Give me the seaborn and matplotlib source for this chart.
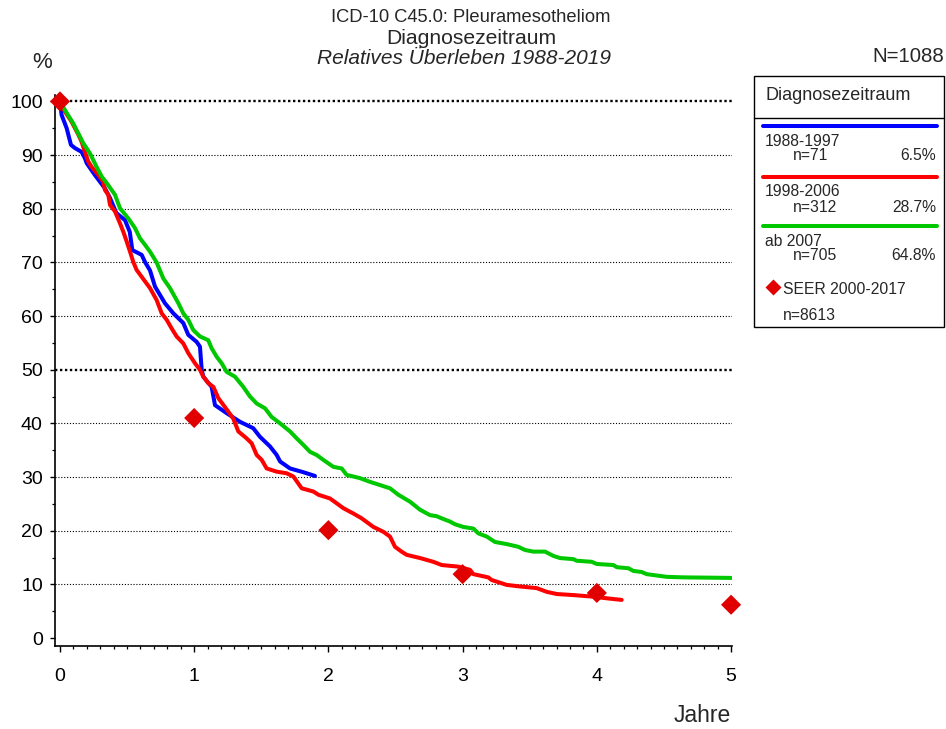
import numpy as np
import pandas as pd
import matplotlib
matplotlib.use('Agg')
import matplotlib.pyplot as plt
import seaborn as sns
from matplotlib.lines import Line2D
from matplotlib.patches import Rectangle
from matplotlib.ticker import MultipleLocator

sns.set_theme(style='ticks')
plt.rcParams['font.family'] = ['Liberation Sans', 'DejaVu Sans']

# ---------------- data ----------------
groups = ['1988-1997', '1998-2006', 'ab 2007']
group_n = ['n=71', 'n=312', 'n=705']
group_pct = ['6.5%', '28.7%', '64.8%']
colors = ['#0000ff', '#ff0000', '#00c800']

t_1988 = [0, 0.012, 0.05, 0.082, 0.112, 0.161, 0.186, 0.199, 0.26, 0.335,
          0.373, 0.42, 0.484, 0.52, 0.539, 0.609, 0.633, 0.671, 0.708, 0.782,
          0.845, 0.919, 0.956, 1.018, 1.043, 1.056, 1.068, 1.13, 1.155, 1.242,
          1.341, 1.44, 1.49, 1.565, 1.615, 1.64, 1.714, 1.813, 1.9]
s_1988 = [100, 97.5, 95.0, 91.9, 91.3, 90.6, 89.4, 88.5, 86.3, 83.8,
          82.0, 79.2, 77.9, 75.7, 72.3, 71.4, 70.1, 68.5, 65.5, 62.4,
          60.5, 58.7, 56.5, 55.2, 54.3, 50.0, 48.7, 46.8, 43.4, 41.9,
          40.3, 39.1, 37.5, 35.7, 34.1, 32.9, 31.6, 30.9, 30.2]

t_1998 = [0, 0.037, 0.087, 0.137, 0.161, 0.186, 0.211, 0.236, 0.286, 0.323,
          0.335, 0.36, 0.373, 0.41, 0.447, 0.472, 0.497, 0.522, 0.546, 0.571,
          0.671, 0.72, 0.758, 0.795, 0.832, 0.869, 0.919, 0.956, 1.006, 1.043,
          1.068, 1.105, 1.143, 1.18, 1.254, 1.291, 1.329, 1.391, 1.428, 1.466,
          1.503, 1.54, 1.615, 1.689, 1.739, 1.801, 1.888, 1.925, 2.012, 2.062,
          2.111, 2.186, 2.248, 2.335, 2.409, 2.459, 2.496, 2.545, 2.583, 2.683,
          2.782, 2.844, 2.968, 3.055, 3.08, 3.191, 3.217, 3.279, 3.328, 3.428,
          3.552, 3.627, 3.701, 3.825, 3.974, 4.074, 4.185]
s_1998 = [100, 98.1, 96.2, 93.8, 92.5, 90.6, 88.8, 87.8, 86.3, 85.0,
          83.5, 82.6, 80.7, 79.5, 77.3, 75.7, 73.9, 72.0, 70.1, 68.6,
          65.2, 63.0, 60.5, 59.3, 57.7, 56.2, 54.9, 53.1, 51.2, 50.0,
          48.7, 47.5, 46.8, 44.7, 42.2, 40.9, 38.5, 37.2, 36.3, 34.1,
          33.2, 31.6, 31.0, 30.7, 30.1, 27.9, 27.3, 26.7, 26.0, 25.1,
          24.2, 23.2, 22.3, 20.7, 19.8, 18.9, 17.0, 16.1, 15.5, 14.9,
          14.2, 13.6, 13.3, 12.7, 11.9, 11.3, 10.8, 10.3, 9.9, 9.6,
          9.3, 8.6, 8.2, 8.0, 7.7, 7.4, 7.1]

t_2007 = [0, 0.037, 0.099, 0.174, 0.224, 0.273, 0.311, 0.348, 0.41, 0.447,
          0.509, 0.559, 0.596, 0.633, 0.671, 0.72, 0.77, 0.82, 0.882, 0.919,
          0.956, 0.993, 1.043, 1.105, 1.13, 1.168, 1.205, 1.242, 1.304, 1.366,
          1.416, 1.466, 1.528, 1.577, 1.64, 1.714, 1.764, 1.813, 1.863, 1.913,
          1.962, 2.037, 2.099, 2.136, 2.235, 2.31, 2.385, 2.459, 2.521, 2.608,
          2.683, 2.757, 2.807, 2.844, 2.906, 2.943, 3.005, 3.08, 3.117, 3.18,
          3.241, 3.329, 3.415, 3.465, 3.527, 3.614, 3.676, 3.726, 3.825, 3.85,
          3.962, 3.999, 4.123, 4.148, 4.235, 4.272, 4.334, 4.372, 4.521, 4.645,
          5.0]
s_2007 = [100, 98.4, 95.9, 92.2, 90.3, 87.8, 86.0, 84.8, 82.6, 80.1,
          78.2, 76.4, 74.5, 73.3, 72.0, 70.0, 67.0, 65.2, 62.4, 60.5,
          59.3, 57.4, 56.2, 55.5, 54.0, 52.4, 51.2, 49.6, 48.7, 46.8,
          45.0, 43.7, 42.8, 41.2, 40.0, 38.5, 37.2, 36.0, 34.7, 34.1,
          33.2, 31.9, 31.6, 30.4, 29.8, 29.1, 28.5, 27.9, 26.7, 25.4,
          23.9, 22.9, 22.7, 22.3, 21.7, 21.2, 20.7, 20.4, 19.5, 18.9,
          17.9, 17.5, 17.0, 16.4, 16.1, 16.1, 15.3, 14.9, 14.7, 14.4,
          14.2, 13.8, 13.6, 13.2, 13.0, 12.5, 12.3, 11.9, 11.4, 11.3,
          11.2]

seer_label = 'SEER 2000-2017'
seer_n = 'n=8613'
seer_years = [0, 1, 2, 3, 4, 5]
seer_surv = [100, 41.0, 20.1, 11.9, 8.4, 6.2]

x_ticks = [0, 1, 2, 3, 4, 5]
y_ticks = [0, 10, 20, 30, 40, 50, 60, 70, 80, 90, 100]

df = pd.concat([
    pd.DataFrame({'Jahre': t, 'Ueberleben': s, 'Diagnosezeitraum': g})
    for t, s, g in zip([t_1988, t_1998, t_2007], [s_1988, s_1998, s_2007], groups)
], ignore_index=True)

# ---------------- figure ----------------
W, H = 946, 729
fig = plt.figure(figsize=(W / 100, H / 100), dpi=100)
fx = lambda px: px / W
fy = lambda py: 1 - py / H

ax = fig.add_axes([fx(55), fy(646), fx(732) - fx(55), fy(95) - fy(646)])

for v in y_ticks[1:]:
    thick = v in (50, 100)
    ax.axhline(v, color='black', lw=1.7 if thick else 0.8,
               ls=(0, (1, 1.1)) if thick else (0, (1, 1.6)), zorder=1)

sns.lineplot(data=df, x='Jahre', y='Ueberleben', hue='Diagnosezeitraum',
             hue_order=groups, palette=colors, estimator=None, sort=False,
             lw=2.9, legend=False, ax=ax, zorder=3)
sns.scatterplot(x=seer_years, y=seer_surv, marker='D', s=105,
                color='#e00000', edgecolor='none', ax=ax, zorder=5, legend=False)
for c in ax.collections:
    c.set_clip_on(False)

ax.set_xlim(-0.037, 5.007)
ax.set_ylim(-1.49, 101.2)
ax.set_xticks(x_ticks)
ax.set_xticklabels([str(v) for v in x_ticks])
ax.set_yticks(y_ticks)
ax.set_yticklabels([str(v) for v in y_ticks])
ax.xaxis.set_minor_locator(MultipleLocator(0.1))
ax.yaxis.set_minor_locator(MultipleLocator(5))
ax.tick_params(axis='x', which='major', direction='out', length=4.5, width=1.0,
               pad=11, labelsize=14, color='black', labelcolor='black')
ax.tick_params(axis='x', which='minor', direction='out', length=2.5, width=0.9, color='black')
ax.tick_params(axis='y', which='major', direction='out', length=3.8, width=1.0,
               pad=5, labelsize=14, color='black', labelcolor='black')
ax.tick_params(axis='y', which='minor', direction='out', length=2.2, width=0.9, color='black')
ax.set_xlabel('')
ax.set_ylabel('')
for side in ('top', 'right'):
    ax.spines[side].set_visible(False)
for side in ('left', 'bottom'):
    ax.spines[side].set_color('black')
    ax.spines[side].set_linewidth(1.2)

# ---------------- titles ----------------
fig.text(fx(471), fy(18), 'ICD-10 C45.0: Pleuramesotheliom', ha='center', va='center', fontsize=13.2)
fig.text(fx(471), fy(38), 'Diagnosezeitraum', ha='center', va='center', fontsize=15.2)
fig.text(fx(464), fy(59), 'Relatives Überleben 1988-2019', ha='center', va='center',
         fontsize=15, style='italic')
fig.text(fx(42), fy(62), '%', ha='center', va='center', fontsize=16)
fig.text(fx(944), fy(57), 'N=1088', ha='right', va='center', fontsize=14.7)
fig.text(fx(731), fy(715), 'Jahre', ha='right', va='center', fontsize=16.5)

# ---------------- legend box ----------------
fig.add_artist(Rectangle((fx(754), fy(327)), fx(944) - fx(754), fy(76) - fy(327),
                         transform=fig.transFigure, fill=False, edgecolor='black', lw=1.0))
fig.add_artist(Line2D([fx(754), fx(944)], [fy(118), fy(118)], transform=fig.transFigure,
                      color='black', lw=1.0))
fig.text(fx(765), fy(96), 'Diagnosezeitraum', ha='left', va='center', fontsize=13)

line_y = [126, 177, 226]
for i, g in enumerate(groups):
    ly = line_y[i]
    fig.add_artist(Line2D([fx(763), fx(937)], [fy(ly), fy(ly)], transform=fig.transFigure,
                          color=colors[i], lw=2.9))
    fig.text(fx(765), fy(ly + 15), g, ha='left', va='center', fontsize=11.3)
    fig.text(fx(793), fy(ly + 30), group_n[i], ha='left', va='center', fontsize=11.3)
    fig.text(fx(936), fy(ly + 30), group_pct[i], ha='right', va='center', fontsize=11.3)

fig.add_artist(Line2D([fx(773)], [fy(287)], transform=fig.transFigure, marker='D',
                      markersize=8, color='#e00000', markeredgecolor='none', linestyle='none'))
fig.text(fx(783), fy(290), seer_label, ha='left', va='center', fontsize=11.3)
fig.text(fx(783), fy(316), seer_n, ha='left', va='center', fontsize=11.3)

fig.savefig('out.png', dpi=100)
